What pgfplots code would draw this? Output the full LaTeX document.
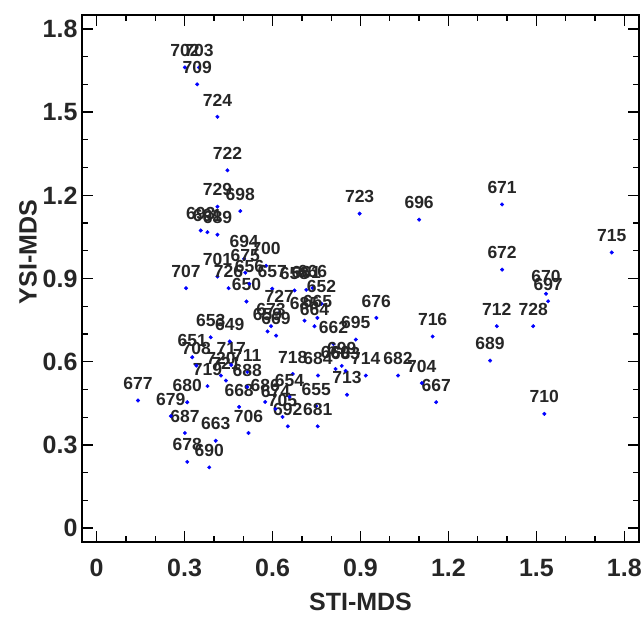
\documentclass[border=0pt]{standalone}
\usepackage{fontspec}
\setmainfont{Liberation Sans}
\usepackage{pgfplots}
\usepackage{pgfplotstable}
\pgfplotsset{compat=1.18}
\usetikzlibrary{calc}
\pgfplotstableread{
x y lab
0.301 1.661 702
0.349 1.661 703
0.343 1.600 709
0.412 1.483 724
0.446 1.290 722
0.412 1.159 729
0.490 1.143 698
0.355 1.073 693
0.378 1.067 691
0.412 1.058 689
0.897 1.134 723
1.100 1.112 696
1.383 1.167 671
1.757 0.994 715
1.383 0.932 672
1.533 0.845 670
1.540 0.818 697
1.365 0.728 712
1.489 0.728 728
1.342 0.604 689
1.527 0.412 710
1.146 0.691 716
1.158 0.454 667
1.109 0.523 704
1.028 0.550 682
0.918 0.550 714
0.854 0.481 713
0.954 0.758 676
0.884 0.680 695
0.808 0.664 662
0.815 0.574 660
0.836 0.585 699
0.849 0.567 683
0.669 0.556 718
0.755 0.550 684
0.749 0.440 655
0.754 0.367 681
0.652 0.367 692
0.634 0.401 705
0.610 0.430 674
0.575 0.455 686
0.658 0.473 654
0.486 0.437 668
0.518 0.343 706
0.406 0.315 663
0.384 0.219 690
0.309 0.239 678
0.301 0.343 687
0.253 0.404 679
0.309 0.454 680
0.141 0.460 677
0.378 0.512 719
0.424 0.550 720
0.441 0.532 721
0.459 0.588 717
0.514 0.563 711
0.514 0.509 688
0.340 0.586 708
0.326 0.616 651
0.389 0.688 653
0.454 0.673 649
0.511 0.817 650
0.305 0.865 707
0.412 0.907 701
0.450 0.865 726
0.503 0.971 694
0.507 0.921 675
0.578 0.946 700
0.521 0.881 656
0.599 0.863 657
0.675 0.857 658
0.715 0.859 661
0.736 0.866 666
0.767 0.809 652
0.623 0.776 727
0.709 0.748 685
0.753 0.758 665
0.743 0.728 664
0.595 0.728 673
0.583 0.709 659
0.612 0.694 669
}\datatable
\begin{document}
\begin{tikzpicture}
\begin{axis}[
  scale only axis,
  width=557pt, height=527pt,
  xmin=-0.05, xmax=1.85, ymin=-0.05, ymax=1.85,
  xtick={0,0.3,0.6,0.9,1.2,1.5,1.8},
  ytick={0,0.3,0.6,0.9,1.2,1.5,1.8},
  minor tick num=2,
  tick align=inside,
  xtick pos=both, ytick pos=both,
  xticklabel pos=lower, yticklabel pos=left,
  major tick length=11pt, minor tick length=6pt,
  every tick/.style={black, line width=1.3pt},
  axis line style={black, line width=1.8pt},
  /pgf/number format/assume math mode=true,
  ticklabel style={font=\fontsize{25}{28}\selectfont\bfseries, text=black!85},
  xticklabel style={yshift=-14pt},
  yticklabel style={xshift=-1pt},
  xlabel={STI-MDS}, ylabel={YSI-MDS},
  label style={font=\fontsize{25}{28}\selectfont\bfseries, text=black!85},
  xlabel style={at={(axis description cs:0.5,-0.114)}, anchor=center},
  ylabel style={at={(axis description cs:-0.097,0.55)}, anchor=center},
  clip=false,
]
\addplot[only marks, mark=*, mark size=1.8pt, color=blue,
  mark options={fill=blue, draw=blue},
  nodes near coords, point meta=explicit symbolic,
  every node near coord/.append style={font=\fontsize{17.5}{19}\selectfont\bfseries, text=black!85, anchor=south, inner sep=0pt, yshift=10.5pt}]
  table[x=x, y=y, meta=lab]{\datatable};
\coordinate (bl) at (rel axis cs:0,0);
\coordinate (tr) at (rel axis cs:1,1);
\end{axis}
\pgfresetboundingbox
\path ($(bl)+(-82pt,-75pt)$) rectangle ($(tr)+(4pt,15pt)$);
\end{tikzpicture}
\end{document}
